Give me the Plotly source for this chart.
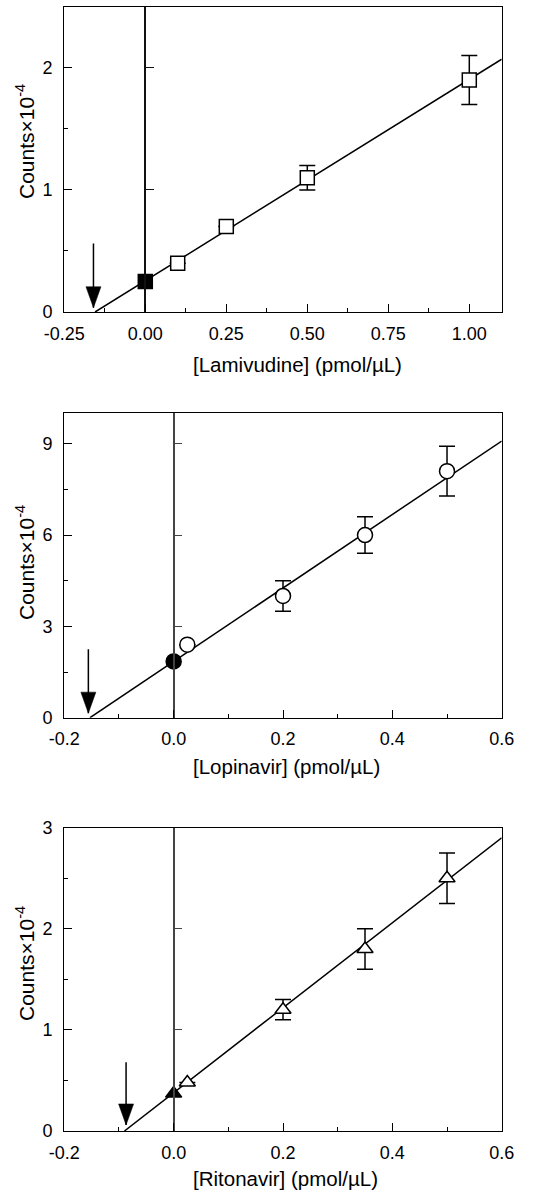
import plotly.graph_objects as go

FONT = "Liberation Sans, Arial, Helvetica, sans-serif"

# ---------------- data ----------------
# Panel 1: Lamivudine
lam_x = [0.10, 0.25, 0.50, 1.00]
lam_y = [0.40, 0.70, 1.10, 1.90]
lam_err = [None, None, 0.10, 0.20]
lam_blank_x = [0.0]
lam_blank_y = [0.25]
lam_fit_x = [-0.155, 1.10]
lam_fit_y = [0.0, 2.07]
lam_arrow_x = -0.16
lam_arrow_top = 0.56
lam_arrow_tip = 0.035
lam_xticks = [-0.25, 0.0, 0.25, 0.50, 0.75, 1.00]
lam_xlabels = ["-0.25", "0.00", "0.25", "0.50", "0.75", "1.00"]
lam_yticks = [0, 1, 2]
lam_ylabels = ["0", "1", "2"]

# Panel 2: Lopinavir
lop_x = [0.025, 0.20, 0.35, 0.50]
lop_y = [2.40, 4.00, 6.00, 8.10]
lop_err = [None, 0.50, 0.60, 0.82]
lop_blank_x = [0.0]
lop_blank_y = [1.85]
lop_fit_x = [-0.153, 0.60]
lop_fit_y = [0.0, 9.09]
lop_arrow_x = -0.156
lop_arrow_top = 2.25
lop_arrow_tip = 0.15
lop_xticks = [-0.2, 0.0, 0.2, 0.4, 0.6]
lop_xlabels = ["-0.2", "0.0", "0.2", "0.4", "0.6"]
lop_yticks = [0, 3, 6, 9]
lop_ylabels = ["0", "3", "6", "9"]

# Panel 3: Ritonavir
rit_x = [0.025, 0.20, 0.35, 0.50]
rit_y = [0.48, 1.20, 1.80, 2.50]
rit_err = [None, 0.10, 0.20, 0.25]
rit_blank_x = [0.0]
rit_blank_y = [0.37]
rit_fit_x = [-0.09, 0.60]
rit_fit_y = [0.0, 2.90]
rit_arrow_x = -0.087
rit_arrow_top = 0.68
rit_arrow_tip = 0.06
rit_xticks = [-0.2, 0.0, 0.2, 0.4, 0.6]
rit_xlabels = ["-0.2", "0.0", "0.2", "0.4", "0.6"]
rit_yticks = [0, 1, 2, 3]
rit_ylabels = ["0", "1", "2", "3"]

x_titles = ["[Lamivudine] (pmol/\u00b5L)", "[Lopinavir] (pmol/\u00b5L)", "[Ritonavir] (pmol/\u00b5L)"]
y_title = "Counts\u00d710<sup>-4</sup>"

# ---------------- layout geometry ----------------
W, H = 548, 1193
xdom = [64.3 / W, 501.7 / W]
panels = [
    dict(x=lam_x, y=lam_y, err=lam_err, bx=lam_blank_x, by=lam_blank_y,
         fx=lam_fit_x, fy=lam_fit_y, ax=lam_arrow_x, atop=lam_arrow_top, atip=lam_arrow_tip,
         xt=lam_xticks, xl=lam_xlabels, yt=lam_yticks, yl=lam_ylabels,
         xr=[-0.25, 1.10], yr=[0, 2.5], xminor=0.125, yminor=0.5,
         sym="square", size=14, ydom=[1 - 312 / H, 1 - 6.7 / H], zcol="#111111",
         xtitle_pos=(297, 364), ytitle_pos=(25, 142)),
    dict(x=lop_x, y=lop_y, err=lop_err, bx=lop_blank_x, by=lop_blank_y,
         fx=lop_fit_x, fy=lop_fit_y, ax=lop_arrow_x, atop=lop_arrow_top, atip=lop_arrow_tip,
         xt=lop_xticks, xl=lop_xlabels, yt=lop_yticks, yl=lop_ylabels,
         xr=[-0.2, 0.6], yr=[0, 10], xminor=0.1, yminor=1.5,
         sym="circle", size=15, ydom=[1 - 717.7 / H, 1 - 413.3 / H], zcol="#444444",
         xtitle_pos=(286, 766), ytitle_pos=(25, 563)),
    dict(x=rit_x, y=rit_y, err=rit_err, bx=rit_blank_x, by=rit_blank_y,
         fx=rit_fit_x, fy=rit_fit_y, ax=rit_arrow_x, atop=rit_arrow_top, atip=rit_arrow_tip,
         xt=rit_xticks, xl=rit_xlabels, yt=rit_yticks, yl=rit_ylabels,
         xr=[-0.2, 0.6], yr=[0, 3], xminor=0.1, yminor=0.5,
         sym="triangle-up", size=14, ydom=[1 - 1131 / H, 1 - 827.7 / H], zcol="#444444",
         xtitle_pos=(285.5, 1178), ytitle_pos=(25, 964)),
]

fig = go.Figure()
layout = dict(
    width=W, height=H, margin=dict(l=0, r=0, t=0, b=0, autoexpand=False),
    paper_bgcolor="white", plot_bgcolor="white", showlegend=False,
    font=dict(family=FONT, size=18, color="black"),
)
shapes = []
annotations = []

for i, p in enumerate(panels):
    n = i + 1
    sx = "" if n == 1 else str(n)
    xa, ya = "x" + sx, "y" + sx
    za = "y" + str(n + 3)

    # fit line
    fig.add_trace(go.Scatter(x=p["fx"], y=p["fy"], mode="lines", xaxis=xa, yaxis=ya,
                             line=dict(color="black", width=1.5), hoverinfo="skip"))
    # standards with error bars
    fig.add_trace(go.Scatter(
        x=p["x"], y=p["y"], mode="markers", xaxis=xa, yaxis=ya,
        marker=dict(symbol=p["sym"], size=p["size"], color="white",
                    line=dict(color="black", width=1.5)),
        error_y=dict(type="data", array=p["err"], visible=True, color="black",
                     thickness=1.5, width=8)))
    # blank sample (filled)
    fig.add_trace(go.Scatter(
        x=p["bx"], y=p["by"], mode="markers", xaxis=xa, yaxis=ya,
        marker=dict(symbol=p["sym"], size=p["size"], color="black",
                    line=dict(color="black", width=1.5))))
    # dummy trace for the zero axis
    fig.add_trace(go.Scatter(x=[None], y=[None], xaxis=xa, yaxis=za, hoverinfo="skip"))

    common = dict(showgrid=False, zeroline=False, showline=True, linecolor="black",
                  linewidth=1.3, ticks="inside", tickcolor="black", tickwidth=1.3,
                  automargin=False)
    layout["xaxis" + sx] = dict(
        domain=xdom, anchor=ya, range=p["xr"], mirror=True,
        tickmode="array", tickvals=p["xt"], ticktext=p["xl"], ticklen=8,
        ticklabelstandoff=5,
        minor=dict(ticks="inside", dtick=p["xminor"], tick0=0, ticklen=4,
                   tickcolor="black", tickwidth=1.3),
        **common)
    layout["yaxis" + sx] = dict(
        domain=p["ydom"], anchor=xa, range=p["yr"], mirror=True,
        tickmode="array", tickvals=p["yt"], ticktext=p["yl"], ticklen=8,
        ticklabelstandoff=7,
        minor=dict(ticks="inside", dtick=p["yminor"], tick0=0, ticklen=4,
                   tickcolor="black", tickwidth=1.3),
        **common)
    frac = (0 - p["xr"][0]) / (p["xr"][1] - p["xr"][0])
    layout["yaxis" + str(n + 3)] = dict(
        overlaying=ya, anchor="free", position=xdom[0] + frac * (xdom[1] - xdom[0]),
        range=p["yr"], side="left", showgrid=False, zeroline=False, showline=True,
        linecolor=p["zcol"], linewidth=1.5, ticks="inside", ticklen=8, tickwidth=1.3,
        tickcolor=p["zcol"], tickmode="array", tickvals=p["yt"], showticklabels=False,
        automargin=False)

    # arrow marking the x-intercept
    shapes.append(dict(type="line", xref=xa, yref=ya, x0=p["ax"], x1=p["ax"],
                       y0=p["atop"], y1=p["atip"], line=dict(color="black", width=1.5)))
    shapes.append(dict(type="path", xref=xa, yref=ya, xsizemode="pixel", ysizemode="pixel",
                       xanchor=p["ax"], yanchor=p["atip"],
                       path="M0,0 L-7.5,21 L7.5,21 Z", fillcolor="black",
                       line=dict(color="black", width=0.5)))

    annotations.append(dict(text=x_titles[i], xref="paper", yref="paper",
                            x=p["xtitle_pos"][0] / W, y=1 - p["xtitle_pos"][1] / H,
                            xanchor="center", yanchor="middle", showarrow=False,
                            font=dict(size=20.5, family=FONT, color="black")))
    annotations.append(dict(text=y_title, xref="paper", yref="paper",
                            x=p["ytitle_pos"][0] / W, y=1 - p["ytitle_pos"][1] / H,
                            xanchor="center", yanchor="middle", showarrow=False, textangle=-90,
                            font=dict(size=21, family=FONT, color="black")))

layout["shapes"] = shapes
layout["annotations"] = annotations
fig.update_layout(**layout)
fig.write_html("out.html", config={"displayModeBar": False},
               post_script="document.body.style.margin='0';document.body.style.overflow='hidden';")
